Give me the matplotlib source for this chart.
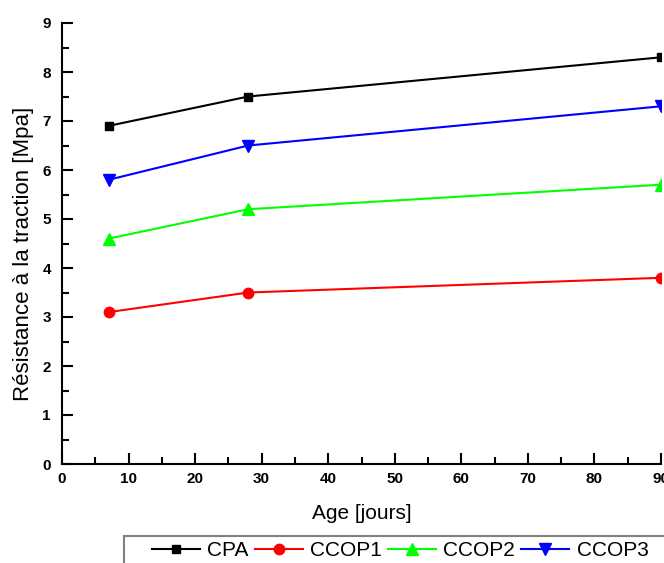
import numpy as np
import matplotlib
matplotlib.use("Agg")
import matplotlib.pyplot as plt
from matplotlib.patches import Rectangle

plt.rcParams['font.family'] = ['Liberation Sans', 'DejaVu Sans']

age = [7, 28, 90]
cpa = [6.9, 7.5, 8.3]
ccop1 = [3.1, 3.5, 3.8]
ccop2 = [4.6, 5.2, 5.7]
ccop3 = [5.8, 6.5, 7.3]

fig = plt.figure(figsize=(6.64, 5.63), dpi=100)
ax = fig.add_axes([62/664, 1-464/563, (661-62)/664, (464-23)/563])

ax.plot(age, cpa, color='black', marker='s', ms=6, lw=1.5, label='CPA')
ax.plot(age, ccop1, color='red', marker='o', ms=7.5, lw=1.5, label='CCOP1')
ax.plot(age, ccop2, color='#00ff00', marker='^', ms=8.5, lw=1.5, label='CCOP2')
ax.plot(age, ccop3, color='blue', marker='v', ms=8.5, lw=1.5, label='CCOP3')

ax.set_xlim(0, 90)
ax.set_ylim(0, 9)
ax.set_xticks(np.arange(0, 91, 10))
ax.set_xticks(np.arange(5, 90, 10), minor=True)
ax.set_yticks(np.arange(0, 10, 1))
ax.set_yticks(np.arange(0.5, 9, 1), minor=True)

for s in ['top', 'right']:
    ax.spines[s].set_visible(False)
for s in ['left', 'bottom']:
    ax.spines[s].set_linewidth(1.5)

ax.tick_params(which='both', direction='in', width=1.5)
ax.tick_params(which='major', length=8, labelsize=11, pad=8)
ax.tick_params(axis='x', which='major', pad=6)
ax.tick_params(which='minor', length=5)
for lab in ax.get_xticklabels() + ax.get_yticklabels():
    lab.set_fontweight('bold')

ax.set_xlabel('Age [jours]', fontsize=15, labelpad=13)
ax.set_ylabel('Résistance à la traction [Mpa]', fontsize=16)
ax.yaxis.set_label_coords(-0.047, 0.476)

# legend frame runs off the right and bottom edges, as in the source
fig.patches.append(Rectangle((124/664, -0.1), 1.0, 0.1 + (563-536)/563,
                             transform=fig.transFigure, fill=False,
                             edgecolor='#808080', lw=1.5))
leg = fig.legend(loc='center left', bbox_to_anchor=(152/664, 1-551/563), ncol=4,
                 fontsize=15, frameon=False, handlelength=2.3,
                 handletextpad=0.35, columnspacing=0.3, borderpad=0,
                 borderaxespad=0)

fig.savefig('out.png', dpi=100)
